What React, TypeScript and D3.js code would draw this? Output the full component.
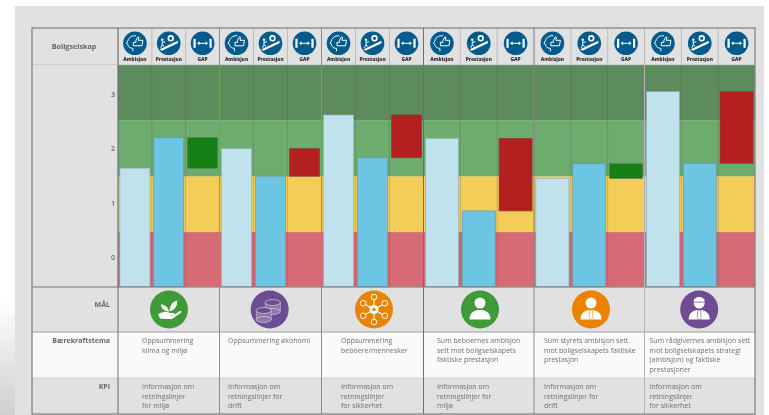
import React, { useEffect, useRef } from "react";
import * as d3 from "d3";

const WIDTH = 769;
const HEIGHT = 415;

const groups = ["klima", "okonomi", "beboere", "beboer", "styret", "radgiver"];
const metrics = ["Ambisjon", "Prestasjon", "GAP"];
const ambition = [1.64, 2.0, 2.62, 2.19, 1.45, 3.05];
const performance = [2.2, 1.49, 1.83, 0.85, 1.72, 1.73];
const yTicks = [0, 1, 2, 3];
const bandStops = [-0.55, 0.46, 1.49, 2.52, 3.54];
const bandColors = ["#d66a75", "#f4cc58", "#6eab6e", "#5c8c5c"];
const groupEdges = [118, 219.5, 321.5, 423.5, 534, 644.5, 755];
const goalColors = ["#3f9a38", "#6d4c91", "#e98300", "#3f9a38", "#e98300", "#6d4c91"];
const goalIcons = ["plant", "coins", "network", "person", "tie", "helmet"];
const themeLines = [
  ["Oppsummering", "klima og miljø"],
  ["Oppsummering økonomi"],
  ["Oppsummering", "beboere/mennesker"],
  ["Sum beboernes ambisjon", "sett mot boligselskapets", "faktiske prestasjon"],
  ["Sum styrets ambisjon sett", "mot boligselskapets faktiske", "prestasjon"],
  ["Sum rådgivernes ambisjon sett", "mot boligselskapets strategi", "(ambisjon) og faktiske", "prestasjoner"],
];
const kpiLines = [
  ["Informasjon om", "retningslinjer", "for miljø"],
  ["Informasjon om", "retningslinjer for", "drift"],
  ["Informasjon om", "retningslinjer", "for sikkerhet"],
  ["Informasjon om", "retningslinjer for", "miljø"],
  ["Informasjon om", "retningslinjer for", "drift"],
  ["Informasjon om", "retningslinjer", "for sikkerhet"],
];
const rowLabels = ["MÅL", "Bærekraftstema", "KPI"];

const FONT = "'Open Sans', sans-serif";

export default function App() {
  const ref = useRef<SVGSVGElement>(null);
  useEffect(() => {
    const svg = d3.select(ref.current!);
    svg.selectAll("*").remove();

    const left = 32, right = 755, split = 118;
    const top = 28, headBottom = 64.5, plotBottom = 287;
    const rowGoal = 332, rowTheme = 378, bottom = 414;
    const y = d3.scaleLinear().domain([0, 3]).range([257, 94.4]);

    const defs = svg.append("defs");
    const shade = defs.append("linearGradient").attr("id", "shade").attr("x1", 0).attr("y1", 0).attr("x2", 0).attr("y2", 1);
    shade.append("stop").attr("offset", 0).attr("stop-color", "#fff");
    shade.append("stop").attr("offset", 1).attr("stop-color", "#cfcfcf");

    svg.append("rect").attr("x", 0).attr("y", 300).attr("width", 15).attr("height", 115).attr("fill", "url(#shade)");
    svg.append("rect").attr("x", 15).attr("y", 6).attr("width", 749).attr("height", 409).attr("fill", "#e1e1e1");

    // theme row background
    svg.append("rect").attr("x", left).attr("y", rowGoal).attr("width", right - left).attr("height", rowTheme - rowGoal).attr("fill", "#fafafa");

    // bands
    const bands = d3.range(bandColors.length).map((i) => ({ lo: bandStops[i], hi: bandStops[i + 1], color: bandColors[i] }));
    svg.append("g").selectAll("rect").data(bands).join("rect")
      .attr("x", split).attr("width", right - split)
      .attr("y", (d) => y(d.hi)).attr("height", (d) => y(d.lo) - y(d.hi))
      .attr("fill", (d) => d.color);

    // columns
    const columns = groups.map((_, i) => d3.scaleBand().domain(metrics).range([groupEdges[i], groupEdges[i + 1]]));

    columns.forEach((x, i) => {
      const a = ambition[i], p = performance[i];
      const bw = x.bandwidth();
      const pad = 1.9;
      const base = y(bandStops[0]);

      metrics.forEach((m) => {
        const cx = x(m)! + bw / 2;
        svg.append("line").attr("x1", x(m)!).attr("x2", x(m)!).attr("y1", top).attr("y2", plotBottom)
          .attr("stroke", "#555").attr("stroke-opacity", 0.25).attr("stroke-width", 1);
        const g = svg.append("g").attr("transform", `translate(${cx},43.3)`);
        g.append("circle").attr("r", 11.8).attr("fill", "#035a8c");
        if (m === "GAP") {
          g.append("path").attr("d", "M-8,-4.5V4.5M8,-4.5V4.5").attr("stroke", "#fff").attr("stroke-width", 2.2).attr("fill", "none");
          g.append("path").attr("d", "M-4.5,0H4.5").attr("stroke", "#fff").attr("stroke-width", 1).attr("fill", "none");
          g.append("path").attr("d", "M-5.5,0l2.5,-2v4zM5.5,0l-2.5,-2v4z").attr("fill", "#fff");
        } else if (m === "Ambisjon") {
          g.append("path").attr("d", "M-2,8V5C-6,5 -7,2.5 -7,1L-8.5,0L-7,-2.5C-6,-6.5 -2,-8 1,-7.5").attr("stroke", "#fff").attr("stroke-width", 1).attr("fill", "none");
          g.append("path").attr("d", "M-1.5,-1H1V-3L3,-6.5L4,-6L3.5,-3H8L7,2.5H-1.5z").attr("stroke", "#fff").attr("stroke-width", 1).attr("fill", "none");
        } else {
          g.append("path").attr("d", "M-9,6L9,-2.5V0L-7,7.5z").attr("fill", "#fff");
          g.append("circle").attr("cx", 2).attr("cy", -5).attr("r", 2.4).attr("fill", "none").attr("stroke", "#fff").attr("stroke-width", 1.6);
          g.append("circle").attr("cx", -6.5).attr("cy", -3.5).attr("r", 1.2).attr("fill", "#fff");
          g.append("path").attr("d", "M-6.5,-2V1.5L-8,4.5M-6.5,1.5L-4.5,3M-6.5,-1L-3.5,-1.5").attr("stroke", "#fff").attr("stroke-width", 1).attr("fill", "none");
        }
        svg.append("text").attr("x", cx).attr("y", 61).attr("text-anchor", "middle")
          .attr("font-family", FONT).attr("font-size", 4.8).attr("font-weight", 800).attr("fill", "#333").text(m);
      });

      const rows = [
        { m: "Ambisjon", t: a, b: bandStops[0], c: "#bfe2ec", s: "#8fabb2" },
        { m: "Prestasjon", t: p, b: bandStops[0], c: "#6bc5e3", s: "#5f98a8" },
        { m: "GAP", t: Math.max(a, p), b: Math.min(a, p), c: p > a ? "#158015" : "#b42020", s: p > a ? "#4a7a4a" : "#8a3a3a" },
      ];
      svg.append("g").selectAll("rect").data(rows).join("rect")
        .attr("x", (d) => x(d.m)! + pad)
        .attr("width", bw - pad * 2)
        .attr("y", (d) => y(d.t))
        .attr("height", (d) => (d.b === bandStops[0] ? base : y(d.b)) - y(d.t))
        .attr("fill", (d) => d.c)
        .attr("stroke", (d) => d.s)
        .attr("stroke-width", 0.6);
    });

    // y ticks
    const axis = d3.axisLeft(y).tickValues(yTicks).tickSize(0).tickPadding(3).tickFormat(d3.format("d") as any);
    const ax = svg.append("g").attr("transform", `translate(${split},0)`).call(axis);
    ax.select(".domain").remove();
    ax.selectAll("text").attr("font-family", FONT).attr("font-size", 7).attr("font-weight", 600).attr("fill", "#666");

    // row lines
    const hline = (yy: number, c: string, w: number) =>
      svg.append("line").attr("x1", left).attr("x2", right).attr("y1", yy).attr("y2", yy).attr("stroke", c).attr("stroke-width", w);
    hline(headBottom, "#cfcfcf", 1);
    hline(plotBottom, "#777", 1);
    hline(rowGoal, "#8a8a8a", 0.8);
    hline(rowTheme, "#cccccc", 1);

    // group lines
    groupEdges.slice(0, -1).forEach((ex, i) => {
      svg.append("line").attr("x1", ex).attr("x2", ex).attr("y1", top).attr("y2", bottom)
        .attr("stroke", i === 0 || i === 3 ? "#6f6f6f" : i === 5 ? "#b5b5b5" : "#8c8c8c").attr("stroke-width", 1);
    });

    // outer frame
    svg.append("rect").attr("x", left).attr("y", top).attr("width", right - left).attr("height", bottom - top)
      .attr("fill", "none").attr("stroke", "#848484").attr("stroke-width", 1.3);

    // left labels
    const label = (t: string, yy: number, x = 110, size = 7, anchor = "end") =>
      svg.append("text").attr("x", x).attr("y", yy).attr("text-anchor", anchor)
        .attr("font-family", FONT).attr("font-size", size).attr("font-weight", 700).attr("fill", "#666").text(t);
    label("Boligselskap", 48.5, 74, 7.2, "middle");
    label(rowLabels[0], 307);
    label(rowLabels[1], 343);
    label(rowLabels[2], 389);

    // text blocks
    const textX = [142, 228, 341, 437, 544, 649.5];
    const block = (lines: string[], x: number, y0: number) => {
      const t = svg.append("text").attr("font-family", FONT).attr("font-size", 7).attr("fill", "#707070");
      lines.forEach((l, j) => t.append("tspan").attr("x", x).attr("y", y0 + j * 9.6).text(l));
    };
    themeLines.forEach((l, i) => block(l, textX[i], 343));
    kpiLines.forEach((l, i) => block(l, textX[i], 389));

    // goal icons
    const goalX = [169, 269.7, 374, 480, 591, 699.2];
    goalIcons.forEach((icon, i) => {
      const g = svg.append("g").attr("transform", `translate(${goalX[i]},309.5)`);
      g.append("circle").attr("r", 19).attr("fill", goalColors[i]);
      const w = "#fff";
      if (icon === "plant") {
        g.append("path").attr("d", "M-11,5C-6,1 -2,2 1,3.5H4C6,3.5 6,6 3,6H-1L3,6.5L11,1.5C13,1 13,3 11,4L3,9.5H-4L-9,9z").attr("fill", w);
        g.append("path").attr("d", "M0,2C-1,-3 -5,-5 -8,-5C-8,-1 -5,1.5 0,2zM0.5,2C1,-5 4,-8 8,-9C9,-4 6,0 0.5,2z").attr("fill", w);
      } else if (icon === "coins") {
        [[3, -4, 7.5], [-6, 4, 7.5]].forEach(([cx, cy, r]) => {
          g.append("rect").attr("x", cx - r).attr("y", cy - 3).attr("width", r * 2).attr("height", 9).attr("fill", "#8f78ab").attr("stroke", "#cfc4dc").attr("stroke-width", 0.6);
          g.append("ellipse").attr("cx", cx).attr("cy", cy + 6).attr("rx", r).attr("ry", 3).attr("fill", "#8f78ab").attr("stroke", "#cfc4dc").attr("stroke-width", 0.8);
          g.append("ellipse").attr("cx", cx).attr("cy", cy - 3).attr("rx", r).attr("ry", 3).attr("fill", goalColors[i]).attr("stroke", "#d8cfe3").attr("stroke-width", 0.7);
        });
      } else if (icon === "network") {
        const pts = d3.range(6).map((k) => {
          const a = (-90 + k * 60) * Math.PI / 180;
          return [Math.cos(a) * 12.5, Math.sin(a) * 12.5];
        });
        pts.forEach(([px, py]) => {
          g.append("line").attr("x1", 0).attr("y1", 0).attr("x2", px).attr("y2", py).attr("stroke", w).attr("stroke-width", 1.1);
          g.append("circle").attr("cx", px).attr("cy", py).attr("r", 2.8).attr("fill", goalColors[i]).attr("stroke", w).attr("stroke-width", 1);
        });
        g.append("circle").attr("r", 4.5).attr("fill", w);
        g.append("circle").attr("r", 1.8).attr("fill", goalColors[i]);
      } else {
        g.append("circle").attr("cy", -6.5).attr("r", 5.5).attr("fill", w);
        g.append("path").attr("d", "M-10.5,10C-10.5,3 -6,0.5 0,0.5C6,0.5 10.5,3 10.5,10z").attr("fill", w);
        if (icon === "tie" || icon === "helmet") {
          g.append("path").attr("d", "M-1.3,0.5H1.3L2,8L0,10L-2,8z").attr("fill", "none").attr("stroke", goalColors[i]).attr("stroke-width", 0.6);
        }
        if (icon === "helmet") {
          g.append("path").attr("d", "M-7,-7.5H7").attr("stroke", goalColors[i]).attr("stroke-width", 1);
          g.append("path").attr("d", "M-5.5,-8C-5.5,-14 5.5,-14 5.5,-8z").attr("fill", w);
        }
      }
    });
  }, []);

  return (
    <svg
      ref={ref}
      width={WIDTH}
      height={HEIGHT}
      style={{ position: "fixed", left: 0, top: 0, display: "block", background: "#fff", filter: "blur(0.35px)" }}
    />
  );
}
